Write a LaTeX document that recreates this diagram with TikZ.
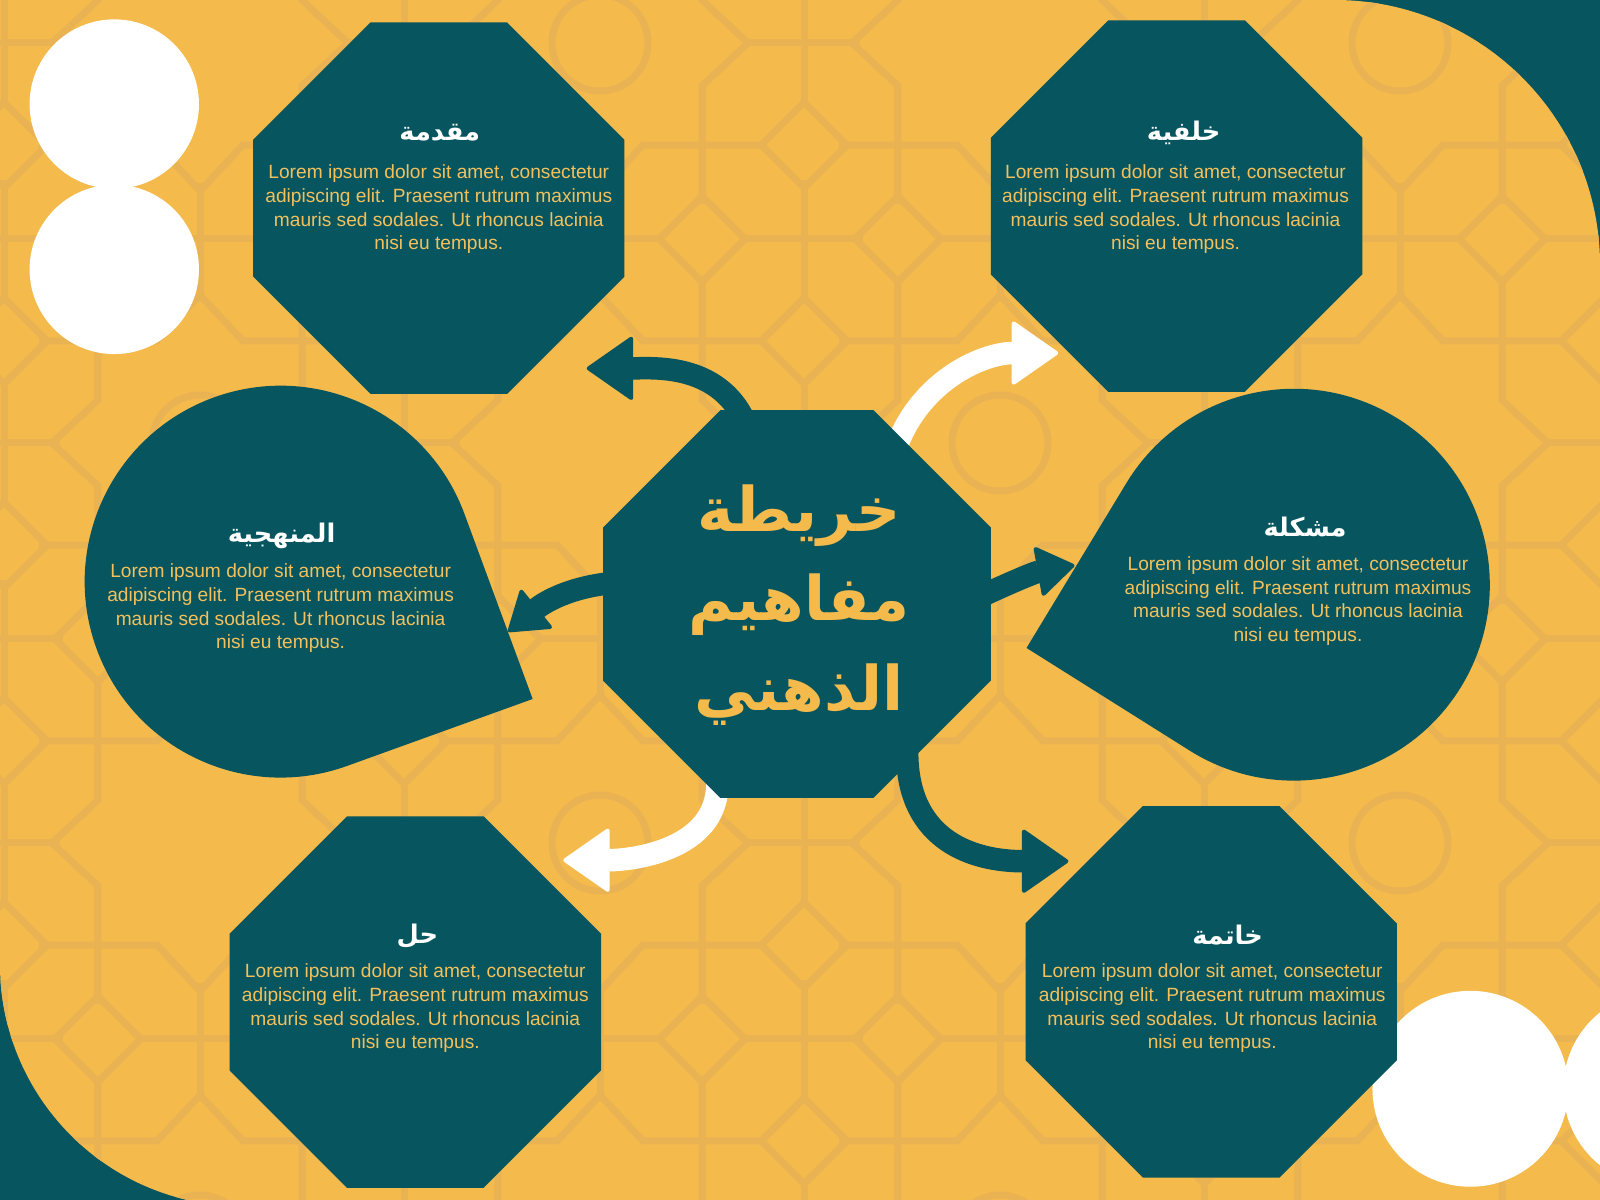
\documentclass[tikz,border=0pt]{standalone}
\usepackage{fontspec}
\usepackage{xcolor}
\usetikzlibrary{positioning}
\usetikzlibrary{arrows.meta}
\newfontfamily\latinfont{Liberation Sans}
\newfontfamily\arabicfont[Script=Arabic]{DejaVu Sans}
\TeXXeTstate=1

\definecolor{bgyellow}{HTML}{F4BA4B}
\definecolor{tealbox}{HTML}{06555F}
\definecolor{patline}{HTML}{E9B354}
\definecolor{txtyellow}{HTML}{F4C05C}

\newcommand{\loremtext}{Lorem ipsum dolor sit amet, consectetur\\adipiscing elit. Praesent rutrum maximus\\mauris sed sodales. Ut rhoncus lacinia\\nisi eu tempus.}

% octagon: centre x, centre y, half width (corner cut 115)
\newcommand{\octagon}[3]{%
\fill[tealbox] ({#1-#3},{#2+#3-115}) -- ++(115,115) -- ++({2*#3-230},0) -- ++(115,-115)
  -- ++(0,{230-2*#3}) -- ++(-115,-115) -- ++({230-2*#3},0) -- ++(-115,115) -- cycle;}

\tikzset{
pattern line/.style={draw=patline, line width=0.7mm},
tile/.pic={
\draw[pattern line] (100,-158) -- (100,-42) -- (145,0) -- (100,42) -- (100,158);
\draw[pattern line] (-100,-158) -- (-100,-42) -- (-145,0) -- (-100,42) -- (-100,158);
\draw[pattern line] (-158,100) -- (-42,100) -- (0,145) -- (42,100) -- (158,100);
\draw[pattern line] (-158,-100) -- (-42,-100) -- (0,-145) -- (42,-100) -- (158,-100);
\draw[pattern line] (145,0) -- (255,0) (0,145) -- (0,255);
\draw[pattern line] (-58,200) -- (58,200) (142,200) -- (258,200) (200,-58) -- (200,58) (200,142) -- (200,258);
\foreach \dx/\dy in {100/200,-100/200,200/100,200/-100}
  \draw[pattern line] (\dx,\dy-42) -- (\dx+42,\dy) -- (\dx,\dy+42) -- (\dx-42,\dy) -- cycle;
},
body text/.style={text=txtyellow, font=\latinfont\fontsize{5.45}{6.77}\selectfont, align=center, inner sep=0pt},
head text/.style={text=white, font=\arabicfont\bfseries\fontsize{7.3}{9}\selectfont, inner sep=0pt},
title text/.style={text=bgyellow, font=\arabicfont\bfseries\fontsize{17.5}{25.5}\selectfont, align=center, inner sep=0pt},
dark arrow/.style={draw=tealbox, line width=2.25mm, -{Triangle[length=4.8mm, width=6.6mm, line width=0.4mm, round]}},
small arrow/.style={draw=tealbox, line width=2.25mm, -{Triangle[length=3.9mm, width=5.2mm, line width=0.4mm, round]}},
white arrow/.style={draw=white, line width=2.25mm, -{Triangle[length=4.8mm, width=6.6mm, line width=0.4mm, round]}}
}

\begin{document}
\begin{tikzpicture}[x=0.10204mm, y=0.10204mm]
\useasboundingbox (0,0) rectangle (1568,-1176);
\clip (0,0) rectangle (1568,-1176);

% Background
\fill[tealbox] (0,0) rectangle (1568,-1176);
\fill[bgyellow] (0,0) -- (1308,0) arc[start angle=90, end angle=0, radius=260] -- (1568,-1182)
  -- (237,-1182) arc[start angle=270, end angle=180, radius=237] -- cycle;
\begin{scope}
\clip (0,0) -- (1308,0) arc[start angle=90, end angle=0, radius=260] -- (1568,-1182)
  -- (237,-1182) arc[start angle=270, end angle=180, radius=237] -- cycle;
\begin{scope}[xscale=0.98, yscale=-0.98]
\foreach \i in {-1,...,4}{
  \foreach \j in {-1,...,3}{
    \pic at ({200+400*\i},{43+400*\j}) {tile};
    \pgfmathtruncatemacro\odd{mod(\i+\j+10,2)}
    \ifnum\odd=1 \draw[pattern line] ({200+400*\i},{43+400*\j}) circle (48); \fi
  }
}
\end{scope}
\end{scope}

% White dots
\fill[white] (112,-102) circle (83);
\fill[white] (112,-264) circle (83);
\fill[white] (1441,-1067) circle (96);
\fill[white] (1628,-1067) circle (96);

% Coordinates
\coordinate (method_c) at (275,-570);
\coordinate (method_pt) at (522,-685);
\coordinate (problem_c) at (1268,-573);
\coordinate (problem_pt) at (1006,-635);
\coordinate (map_intro) at (730,-413);
\coordinate (map_background) at (878,-439);
\coordinate (map_method) at (603,-571);
\coordinate (map_problem) at (960,-585);
\coordinate (map_solution) at (703,-768);
\coordinate (map_conclusion) at (889,-737);
\coordinate (intro_tip) at (575,-361);
\coordinate (background_tip) at (1037,-346);
\coordinate (method_tip) at (498,-619);
\coordinate (problem_tip) at (1053,-554);
\coordinate (solution_tip) at (552,-843);
\coordinate (conclusion_tip) at (1047,-844);

% Boxes
\octagon{430}{-204}{182}
\octagon{1153}{-202}{182}
\octagon{407}{-982}{182}
\octagon{1187}{-972}{182}
\fill[tealbox] (method_pt) -- ([shift={(19.9:192)}]method_c) arc[start angle=19.9, end angle=289.9, radius=192] -- cycle;
\fill[tealbox] (problem_pt) -- ([shift={(238.3:192)}]problem_c) arc[start angle=238.3, end angle=508.3, radius=192] -- cycle;

% Arrows
\draw[dark arrow] (map_intro) to[out=115, in=0] (intro_tip);
\draw[white arrow] (map_background) to[out=70, in=180] (background_tip);
\draw[small arrow] (map_method) to[out=185, in=39] (method_tip);
\draw[small arrow] (map_problem) to[out=25, in=190] (problem_tip);
\draw[white arrow] (map_solution) to[out=-90, in=0] (solution_tip);
\draw[dark arrow] (map_conclusion) to[out=-90, in=180, looseness=1.2] (conclusion_tip);

\octagon{781}{-592}{190}

% Texts
\node[title text] (map) at (783,-593) {\beginR خريطة\endR\\\beginR مفاهيم\endR\\\beginR الذهني\endR};

\node[head text] (intro_head) at (431,-130) {\beginR مقدمة\endR};
\node[body text] (intro_body) at (430,-205) {\loremtext};
\node[head text] (background_head) at (1160,-130) {\beginR خلفية\endR};
\node[body text] (background_body) at (1152,-205) {\loremtext};
\node[head text] (method_head) at (276,-525) {\beginR المنهجية\endR};
\node[body text] (method_body) at (275,-596) {\loremtext};
\node[head text] (problem_head) at (1279,-517) {\beginR مشكلة\endR};
\node[body text] (problem_body) at (1272,-589) {\loremtext};
\node[head text] (solution_head) at (409,-917) {\beginR حل\endR};
\node[body text] (solution_body) at (407,-988) {\loremtext};
\node[head text] (conclusion_head) at (1203,-916) {\beginR خاتمة\endR};
\node[body text] (conclusion_body) at (1188,-988) {\loremtext};

\end{tikzpicture}
\end{document}
